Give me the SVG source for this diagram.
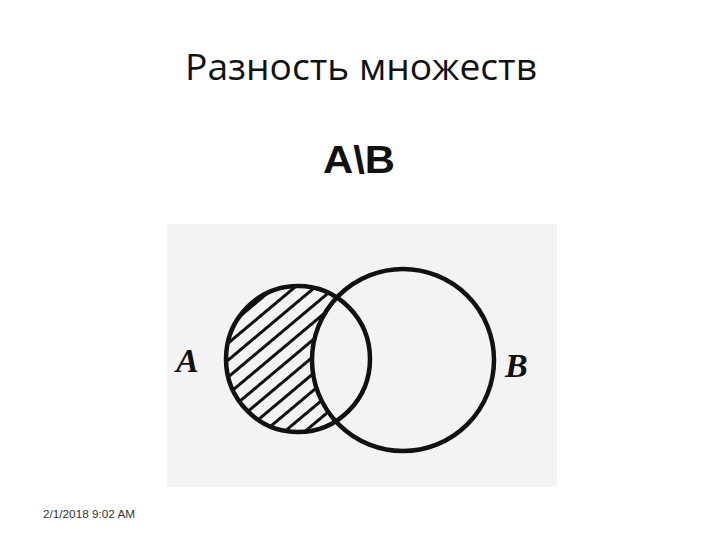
<svg xmlns="http://www.w3.org/2000/svg" width="720" height="540" viewBox="0 0 720 540">
  <style>
    .title { font-family: "Open Sans", "Liberation Sans", sans-serif; font-size: 36px; fill: #111; }
    .sub { font-family: "Liberation Sans", "Open Sans", sans-serif; font-weight: bold; font-size: 39px; fill: #111; }
    .lbl { font-family: "Liberation Serif", "DejaVu Serif", serif; font-weight: bold; font-style: italic; font-size: 34px; fill: #111; }
    .date { font-family: "Liberation Sans", "Open Sans", sans-serif; font-size: 11.5px; fill: #333; }
    .ring { fill: none; stroke: #111; stroke-width: 4.5; }
  </style>
  <defs>
    <pattern id="hatch" patternUnits="userSpaceOnUse" width="24" height="13" patternTransform="rotate(-40)">
      <line x1="0" y1="6.5" x2="24" y2="6.5" stroke="#111" stroke-width="3"/>
    </pattern>
    <clipPath id="clipA">
      <ellipse cx="298" cy="359" rx="72" ry="73"/>
    </clipPath>
  </defs>
  <rect width="720" height="540" fill="#ffffff"/>
  <text class="title" x="361" y="80" text-anchor="middle" textLength="352" lengthAdjust="spacingAndGlyphs">Разность множеств</text>
  <text class="sub" x="359" y="173" text-anchor="middle" textLength="72" lengthAdjust="spacingAndGlyphs">A\B</text>
  <rect x="167" y="224" width="390" height="263" fill="#f3f3f3"/>
  <g id="setA-hatch">
    <rect x="220" y="280" width="160" height="160" fill="url(#hatch)" clip-path="url(#clipA)"/>
  </g>
  <g id="setB-fill">
    <circle cx="403" cy="360" r="91" fill="#f3f3f3"/>
  </g>
  <g id="setA">
    <ellipse class="ring" cx="298" cy="359" rx="72" ry="73"/>
    <text class="lbl" x="176" y="372">A</text>
  </g>
  <g id="setB">
    <circle class="ring" cx="403" cy="360" r="91"/>
    <text class="lbl" x="505" y="377">B</text>
  </g>
  <text class="date" x="43" y="518" textLength="92" lengthAdjust="spacingAndGlyphs">2/1/2018 9:02 AM</text>
</svg>
